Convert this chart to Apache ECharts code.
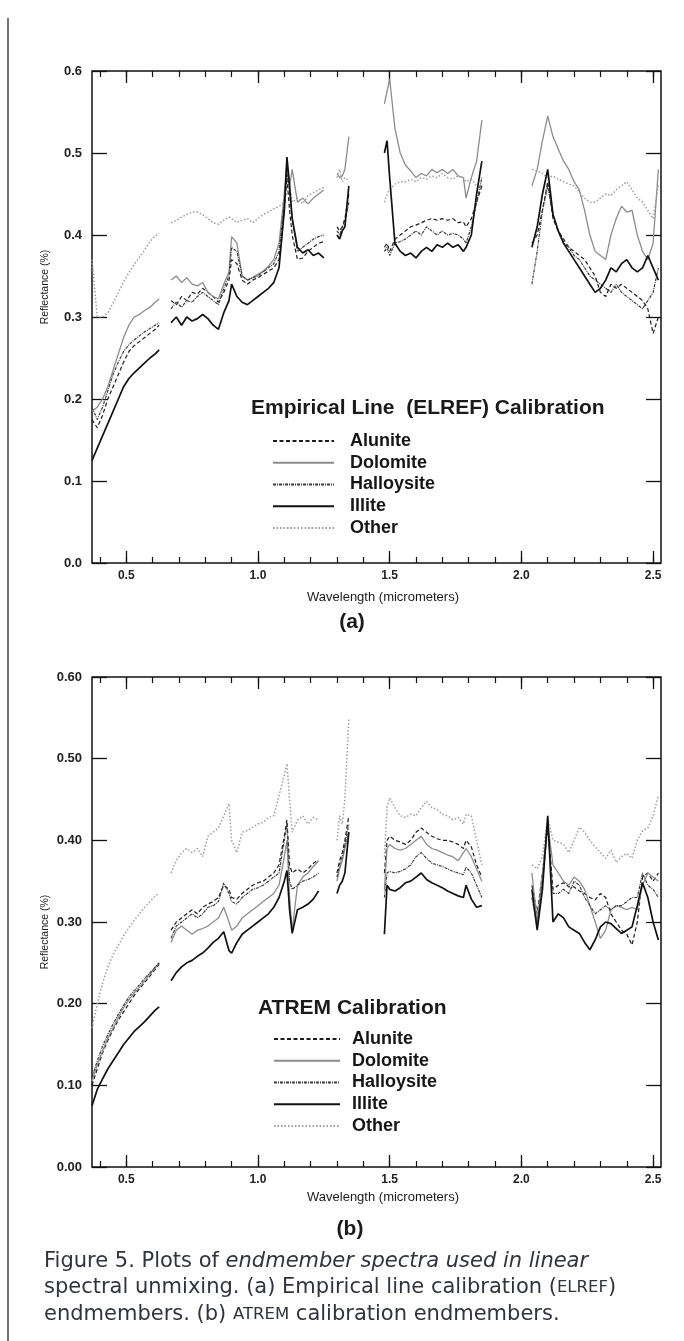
<!DOCTYPE html>
<html lang="en">
<head>
    <meta charset="UTF-8">
    <script src="https://cdn.jsdelivr.net/npm/echarts@6.0.0/dist/echarts.min.js"></script>
    <title>Figure 5</title>
    <style>
        body { margin: 0; background: #ffffff; }
        #chart { width: 684px; height: 1341px; }
    </style>
</head>
<body>
<div id="chart"></div>

<script>
    // wavelength (micrometers) of each band, split in the segments between water absorption gaps
    const waveSegs = [
        [0.37, 0.39, 0.41, 0.43, 0.45, 0.47, 0.49, 0.51, 0.53, 0.55, 0.57, 0.59, 0.61, 0.625],
        [0.67, 0.69, 0.71, 0.73, 0.75, 0.77, 0.79, 0.81, 0.83, 0.85, 0.87, 0.89, 0.90, 0.92, 0.94, 0.96,
            0.98, 1.00, 1.02, 1.04, 1.06, 1.08, 1.10, 1.11, 1.12, 1.13, 1.15, 1.17, 1.19, 1.21, 1.23, 1.25],
        [1.30, 1.31, 1.32, 1.33, 1.345],
        [1.48, 1.49, 1.50, 1.52, 1.54, 1.56, 1.58, 1.60, 1.62, 1.64, 1.66, 1.68, 1.70, 1.72, 1.74, 1.76,
            1.78, 1.79, 1.81, 1.83, 1.85],
        [2.04, 2.06, 2.08, 2.10, 2.12, 2.14, 2.16, 2.18, 2.20, 2.22, 2.24, 2.26, 2.28, 2.30, 2.32, 2.34,
            2.36, 2.38, 2.40, 2.42, 2.44, 2.46, 2.48, 2.50, 2.52]
    ];

    const names = ["Alunite", "Dolomite", "Halloysite", "Illite", "Other"];

    const xLabels = [0.5, 1.0, 1.5, 2.0, 2.5];
    const xMinorTicks = [0.4, 0.5, 0.6, 0.7, 0.8, 0.9, 1.0, 1.1, 1.2, 1.3, 1.4, 1.5, 1.6, 1.7, 1.8, 1.9,
        2.0, 2.1, 2.2, 2.3, 2.4, 2.5];

    // (a) Empirical line (ELREF) calibration
    const elrefAlunite = [
        [0.175, 0.165, 0.18, 0.20, 0.215, 0.23, 0.245, 0.258, 0.265, 0.27, 0.275, 0.28, 0.285, 0.29],
        [0.32, 0.315, 0.325, 0.32, 0.33, 0.328, 0.335, 0.33, 0.325, 0.318, 0.33, 0.345, 0.37, 0.365, 0.345, 0.34,
            0.345, 0.348, 0.352, 0.356, 0.36, 0.37, 0.43, 0.47, 0.43, 0.40, 0.37, 0.372, 0.38, 0.385, 0.39, 0.392],
        [0.41, 0.405, 0.41, 0.42, 0.45],
        [0.385, 0.39, 0.38, 0.395, 0.40, 0.405, 0.41, 0.412, 0.415, 0.418, 0.42, 0.418, 0.42, 0.418, 0.42, 0.415,
            0.416, 0.41, 0.42, 0.44, 0.46],
        [0.39, 0.40, 0.43, 0.465, 0.42, 0.405, 0.395, 0.385, 0.38, 0.375, 0.37, 0.36, 0.35, 0.33, 0.325, 0.34,
            0.335, 0.34, 0.335, 0.33, 0.325, 0.32, 0.31, 0.28, 0.30]
    ];
    const elrefDolomite = [
        [0.185, 0.19, 0.20, 0.215, 0.235, 0.255, 0.275, 0.29, 0.30, 0.303, 0.308, 0.312, 0.318, 0.322],
        [0.345, 0.35, 0.342, 0.348, 0.34, 0.338, 0.342, 0.33, 0.325, 0.322, 0.34, 0.355, 0.398, 0.39, 0.35, 0.345,
            0.348, 0.352, 0.356, 0.362, 0.37, 0.39, 0.45, 0.49, 0.46, 0.48, 0.44, 0.445, 0.438, 0.445, 0.45, 0.455],
        [0.475, 0.47, 0.472, 0.48, 0.52],
        [0.56, 0.575, 0.59, 0.53, 0.50, 0.485, 0.478, 0.47, 0.475, 0.472, 0.48, 0.476, 0.48, 0.475, 0.48, 0.472,
            0.47, 0.445, 0.47, 0.49, 0.54],
        [0.46, 0.48, 0.515, 0.545, 0.52, 0.505, 0.49, 0.48, 0.465, 0.455, 0.43, 0.40, 0.38, 0.375, 0.37, 0.40,
            0.42, 0.435, 0.428, 0.43, 0.40, 0.38, 0.37, 0.39, 0.48]
    ];
    const elrefHalloysite = [
        [0.19, 0.175, 0.19, 0.21, 0.23, 0.245, 0.258, 0.266, 0.272, 0.277, 0.282, 0.286, 0.29, 0.293],
        [0.31, 0.318, 0.312, 0.32, 0.318, 0.325, 0.33, 0.325, 0.32, 0.315, 0.335, 0.35, 0.385, 0.38, 0.35, 0.345,
            0.348, 0.35, 0.355, 0.36, 0.365, 0.38, 0.44, 0.48, 0.45, 0.42, 0.38, 0.385, 0.39, 0.395, 0.398, 0.40],
        [0.405, 0.40, 0.41, 0.415, 0.44],
        [0.38, 0.385, 0.375, 0.39, 0.392, 0.395, 0.40, 0.405, 0.40, 0.41, 0.405, 0.40, 0.405, 0.40, 0.402, 0.40,
            0.395, 0.39, 0.41, 0.44, 0.47],
        [0.34, 0.38, 0.43, 0.46, 0.425, 0.405, 0.39, 0.385, 0.375, 0.37, 0.36, 0.35, 0.345, 0.34, 0.335, 0.33,
            0.34, 0.33, 0.325, 0.32, 0.315, 0.31, 0.32, 0.33, 0.36]
    ];
    const elrefIllite = [
        [0.125, 0.14, 0.155, 0.17, 0.185, 0.20, 0.215, 0.225, 0.232, 0.238, 0.244, 0.25, 0.255, 0.26],
        [0.293, 0.30, 0.29, 0.30, 0.295, 0.298, 0.303, 0.298, 0.29, 0.285, 0.305, 0.32, 0.34, 0.325, 0.318, 0.315,
            0.32, 0.325, 0.33, 0.335, 0.342, 0.36, 0.43, 0.495, 0.46, 0.42, 0.385, 0.378, 0.382, 0.375, 0.378, 0.372],
        [0.40, 0.395, 0.405, 0.41, 0.46],
        [0.50, 0.515, 0.47, 0.39, 0.38, 0.375, 0.378, 0.372, 0.38, 0.385, 0.38, 0.388, 0.385, 0.39, 0.385, 0.388,
            0.38, 0.385, 0.40, 0.45, 0.49],
        [0.385, 0.41, 0.45, 0.48, 0.425, 0.405, 0.39, 0.38, 0.37, 0.36, 0.35, 0.34, 0.33, 0.335, 0.345, 0.36,
            0.355, 0.365, 0.37, 0.36, 0.355, 0.36, 0.375, 0.36, 0.345]
    ];
    const elrefOther = [
        [0.37, 0.30, 0.30, 0.305, 0.317, 0.33, 0.343, 0.354, 0.364, 0.373, 0.382, 0.392, 0.399, 0.402],
        [0.415, 0.418, 0.422, 0.425, 0.428, 0.428, 0.425, 0.42, 0.415, 0.413, 0.418, 0.422, 0.42, 0.415, 0.418, 0.42,
            0.415, 0.42, 0.425, 0.428, 0.432, 0.435, 0.44, 0.455, 0.46, 0.44, 0.445, 0.438, 0.448, 0.452, 0.455, 0.458],
        [0.47, 0.48, 0.465, 0.47, 0.465],
        [0.44, 0.45, 0.455, 0.462, 0.465, 0.465, 0.468, 0.465, 0.47, 0.468, 0.472, 0.47, 0.475, 0.47, 0.468, 0.472,
            0.47, 0.465, 0.468, 0.46, 0.455],
        [0.48, 0.478, 0.475, 0.47, 0.472, 0.468, 0.465, 0.462, 0.46, 0.452, 0.445, 0.44, 0.44, 0.445, 0.45, 0.448,
            0.455, 0.46, 0.465, 0.455, 0.445, 0.44, 0.43, 0.42, 0.46]
    ];

    // (b) ATREM calibration
    const atremAlunite = [
        [0.10, 0.12, 0.14, 0.155, 0.168, 0.18, 0.19, 0.20, 0.21, 0.218, 0.226, 0.234, 0.242, 0.248],
        [0.29, 0.30, 0.305, 0.31, 0.315, 0.31, 0.318, 0.322, 0.325, 0.33, 0.345, 0.34, 0.33, 0.328, 0.335, 0.34,
            0.345, 0.348, 0.35, 0.355, 0.36, 0.37, 0.405, 0.425, 0.37, 0.36, 0.365, 0.36, 0.365, 0.372, 0.376],
        [0.36, 0.375, 0.385, 0.40, 0.43],
        [0.36, 0.40, 0.405, 0.40, 0.398, 0.395, 0.40, 0.41, 0.415, 0.41, 0.405, 0.402, 0.40, 0.40, 0.398, 0.395,
            0.39, 0.40, 0.392, 0.37, 0.355],
        [0.345, 0.31, 0.36, 0.42, 0.34, 0.345, 0.348, 0.343, 0.343, 0.338, 0.335, 0.33, 0.327, 0.335, 0.33, 0.31,
            0.30, 0.29, 0.285, 0.272, 0.30, 0.355, 0.36, 0.35, 0.36]
    ];
    const atremDolomite = [
        [0.105, 0.125, 0.142, 0.158, 0.17, 0.183, 0.195, 0.205, 0.213, 0.22, 0.228, 0.236, 0.244, 0.25],
        [0.275, 0.29, 0.295, 0.29, 0.285, 0.29, 0.292, 0.295, 0.30, 0.305, 0.318, 0.30, 0.29, 0.295, 0.305, 0.31,
            0.315, 0.32, 0.325, 0.33, 0.335, 0.345, 0.38, 0.40, 0.33, 0.29, 0.345, 0.355, 0.36, 0.368, 0.375],
        [0.35, 0.365, 0.375, 0.39, 0.41],
        [0.34, 0.39, 0.395, 0.39, 0.388, 0.39, 0.395, 0.40, 0.405, 0.395, 0.39, 0.388, 0.385, 0.382, 0.38, 0.375,
            0.385, 0.39, 0.38, 0.365, 0.35],
        [0.36, 0.30, 0.36, 0.42, 0.37, 0.36, 0.35, 0.345, 0.355, 0.35, 0.34, 0.32, 0.30, 0.28, 0.29, 0.315,
            0.32, 0.318, 0.315, 0.318, 0.315, 0.345, 0.36, 0.355, 0.35]
    ];
    const atremHalloysite = [
        [0.11, 0.13, 0.148, 0.162, 0.175, 0.187, 0.198, 0.208, 0.216, 0.223, 0.231, 0.238, 0.245, 0.25],
        [0.28, 0.295, 0.30, 0.305, 0.31, 0.305, 0.31, 0.318, 0.32, 0.325, 0.348, 0.335, 0.325, 0.322, 0.33, 0.335,
            0.34, 0.342, 0.345, 0.35, 0.355, 0.36, 0.40, 0.42, 0.35, 0.34, 0.345, 0.35, 0.352, 0.355, 0.36],
        [0.355, 0.37, 0.38, 0.395, 0.42],
        [0.33, 0.36, 0.362, 0.36, 0.362, 0.365, 0.37, 0.38, 0.385, 0.378, 0.372, 0.37, 0.368, 0.365, 0.362, 0.36,
            0.358, 0.367, 0.36, 0.345, 0.33],
        [0.33, 0.295, 0.35, 0.415, 0.335, 0.335, 0.34, 0.335, 0.35, 0.345, 0.33, 0.32, 0.31, 0.315, 0.32, 0.315,
            0.32, 0.32, 0.325, 0.33, 0.33, 0.36, 0.345, 0.34, 0.33]
    ];
    const atremIllite = [
        [0.075, 0.095, 0.108, 0.12, 0.13, 0.14, 0.15, 0.158, 0.166, 0.172, 0.178, 0.185, 0.192, 0.196],
        [0.228, 0.238, 0.245, 0.25, 0.253, 0.258, 0.262, 0.268, 0.275, 0.28, 0.288, 0.265, 0.262, 0.275, 0.285, 0.29,
            0.295, 0.30, 0.305, 0.31, 0.318, 0.33, 0.35, 0.363, 0.315, 0.286, 0.315, 0.318, 0.322, 0.328, 0.338],
        [0.335, 0.345, 0.35, 0.36, 0.41],
        [0.285, 0.345, 0.34, 0.338, 0.342, 0.348, 0.35, 0.355, 0.36, 0.352, 0.348, 0.345, 0.342, 0.338, 0.335, 0.332,
            0.33, 0.345, 0.328, 0.318, 0.32],
        [0.34, 0.29, 0.34, 0.43, 0.30, 0.31, 0.305, 0.294, 0.29, 0.286, 0.275, 0.266, 0.278, 0.294, 0.30, 0.298,
            0.292, 0.286, 0.29, 0.294, 0.32, 0.348, 0.33, 0.30, 0.278]
    ];
    const atremOther = [
        [0.17, 0.20, 0.225, 0.245, 0.26, 0.272, 0.283, 0.293, 0.302, 0.31, 0.318, 0.325, 0.332, 0.335],
        [0.36, 0.375, 0.385, 0.39, 0.385, 0.39, 0.38, 0.405, 0.41, 0.415, 0.43, 0.445, 0.40, 0.385, 0.41, 0.412,
            0.416, 0.42, 0.422, 0.428, 0.43, 0.455, 0.48, 0.494, 0.45, 0.41, 0.425, 0.43, 0.42, 0.428, 0.425],
        [0.40, 0.43, 0.42, 0.45, 0.55],
        [0.38, 0.44, 0.452, 0.44, 0.43, 0.428, 0.432, 0.43, 0.44, 0.448, 0.44, 0.438, 0.432, 0.43, 0.425, 0.428,
            0.42, 0.432, 0.43, 0.40, 0.37],
        [0.37, 0.365, 0.38, 0.428, 0.40, 0.398, 0.395, 0.385, 0.40, 0.416, 0.41, 0.40, 0.392, 0.385, 0.378, 0.388,
            0.373, 0.38, 0.384, 0.378, 0.40, 0.412, 0.415, 0.43, 0.455]
    ];

    const elref = [elrefAlunite, elrefDolomite, elrefHalloysite, elrefIllite, elrefOther];
    const atrem = [atremAlunite, atremDolomite, atremHalloysite, atremIllite, atremOther];

    const FONT = "'Liberation Sans', Arial, Helvetica, sans-serif";

    // line look of every endmember
    const lineStyles = {
        Alunite: {color: "#1c1c1c", width: 1.2, type: [4, 2.5]},
        Dolomite: {color: "#8c8c8c", width: 1.3, type: "solid"},
        Halloysite: {color: "#3c3c3c", width: 1.2, type: [3, 1, 1, 1]},
        Illite: {color: "#111111", width: 1.7, type: "solid"},
        Other: {color: "#9e9e9e", width: 1.5, type: [1.5, 2]}
    };

    // join segments, leaving a gap between them
    function toData(segs) {
        let out = [];
        segs.forEach(function (vals, i) {
            if (i > 0) {
                let prev = waveSegs[i - 1];
                out.push([(prev[prev.length - 1] + waveSegs[i][0]) / 2, "-"]);
            }
            vals.forEach(function (v, j) {
                out.push([waveSegs[i][j], v]);
            });
        });
        return out;
    }

    function xAxes(gridIndex) {
        let base = {
            type: "value", gridIndex: gridIndex, min: 0.37, max: 2.53,
            axisLine: {show: false}, splitLine: {show: false}
        };
        return [
            Object.assign({}, base, {
                position: "bottom",
                axisTick: {inside: true, length: 12, customValues: xLabels, lineStyle: {color: "#111", width: 1.3}},
                axisLabel: {
                    customValues: xLabels, margin: 7, color: "#222", fontSize: 12, fontWeight: "bold",
                    fontFamily: FONT, formatter: v => v.toFixed(1)
                }
            }),
            Object.assign({}, base, {
                position: "bottom",
                axisTick: {inside: true, length: 6, customValues: xMinorTicks, lineStyle: {color: "#111", width: 1.2}},
                axisLabel: {show: false}
            }),
            Object.assign({}, base, {
                position: "top",
                axisTick: {inside: true, length: 12, customValues: xLabels, lineStyle: {color: "#111", width: 1.3}},
                axisLabel: {show: false}
            }),
            Object.assign({}, base, {
                position: "top",
                axisTick: {inside: true, length: 6, customValues: xMinorTicks, lineStyle: {color: "#111", width: 1.2}},
                axisLabel: {show: false}
            })
        ];
    }

    function yAxes(gridIndex, digits) {
        let base = {
            type: "value", gridIndex: gridIndex, min: 0, max: 0.6, interval: 0.1,
            axisLine: {show: false}, splitLine: {show: false},
            axisTick: {inside: true, length: 15, lineStyle: {color: "#111", width: 1.3}}
        };
        return [
            Object.assign({}, base, {
                position: "left",
                axisLabel: {
                    margin: 10, color: "#222", fontSize: 13, fontWeight: "bold", fontFamily: FONT,
                    formatter: v => v.toFixed(digits)
                }
            }),
            Object.assign({}, base, {position: "right", axisLabel: {show: false}})
        ];
    }

    function makeSeries(sets, xIndex, yIndex) {
        return names.map(function (name, i) {
            return {
                name: name,
                type: "line",
                xAxisIndex: xIndex,
                yAxisIndex: yIndex,
                data: toData(sets[i]),
                symbol: "none",
                connectNulls: false,
                silent: true,
                z: name === "Illite" ? 4 : 3,
                itemStyle: {color: lineStyles[name].color},
                lineStyle: lineStyles[name]
            };
        });
    }

    function legendAt(left, top, itemWidth, pad) {
        return {
            data: names, orient: "vertical", left: left, top: top,
            itemWidth: itemWidth, itemHeight: 14, itemGap: 3.75, selectedMode: false,
            itemStyle: {opacity: 0},
            textStyle: {
                fontSize: 18, fontWeight: "bold", fontFamily: FONT, color: "#161616",
                lineHeight: 18, padding: [0, 0, 0, pad]
            }
        };
    }

    function txt(x, y, text, size, weight, extra, rotation) {
        return {
            type: "text", x: x, y: y, rotation: rotation || 0, silent: true,
            style: Object.assign({
                text: text, fontSize: size, fontWeight: weight, fontFamily: FONT, fill: "#1a1a1a",
                align: "center", verticalAlign: "middle"
            }, extra || {})
        };
    }

    const myChart = echarts.init(document.getElementById("chart"), null, {renderer: "canvas"});

    const capFont = "'DejaVu Sans', 'Open Sans', sans-serif";
    const capColor = "#30343e";

    function captionLine(y, text) {
        return {
            type: "text", x: 44, y: y, silent: true,
            style: {
                text: text, verticalAlign: "middle", fontSize: 21, fontFamily: capFont, fill: capColor,
                rich: {
                    n: {fontSize: 21, fontFamily: capFont, color: capColor},
                    i: {fontSize: 21, fontFamily: capFont, color: capColor, fontStyle: "italic"},
                    s: {fontSize: 16.5, fontFamily: capFont, color: capColor}
                }
            }
        };
    }

    let option = {
        animation: false,
        backgroundColor: "#ffffff",
        grid: [
            {left: 92, top: 71, width: 569, height: 492, show: true, borderColor: "#111", borderWidth: 1.5},
            {left: 92, top: 677, width: 569, height: 490, show: true, borderColor: "#111", borderWidth: 1.5}
        ],
        xAxis: xAxes(0).concat(xAxes(1)),
        yAxis: yAxes(0, 1).concat(yAxes(1, 2)),
        legend: [legendAt(267, 427, 61, 11), legendAt(268, 1025, 66, 7)],
        series: makeSeries(elref, 0, 0).concat(makeSeries(atrem, 4, 2)),
        graphic: [
            {type: "line", silent: true, shape: {x1: 8, y1: 18, x2: 8, y2: 1341}, style: {stroke: "#444", lineWidth: 1.5}},
            txt(45, 287, "Reflectance (%)", 10.5, "normal", {}, Math.PI / 2),
            txt(45, 932, "Reflectance (%)", 10.5, "normal", {}, Math.PI / 2),
            txt(383, 597, "Wavelength (micrometers)", 13, "normal", {}),
            txt(383, 1197, "Wavelength (micrometers)", 13, "normal", {}),
            txt(352, 622, "(a)", 21, "bold", {}),
            txt(350, 1229, "(b)", 21, "bold", {}),
            txt(251, 408, "Empirical Line  (ELREF) Calibration", 21, "bold", {align: "left"}),
            txt(258, 1008, "ATREM Calibration", 21, "bold", {align: "left"}),
            captionLine(1262, "{n|Figure 5. Plots of }{i|endmember spectra used in linear}"),
            captionLine(1288, "{n|spectral unmixing. (a) Empirical line calibration (}{s|ELREF}{n|)}"),
            captionLine(1315, "{n|endmembers. (b) }{s|ATREM}{n| calibration endmembers.}")
        ]
    };

    myChart.setOption(option);
</script>
</body>
</html>
